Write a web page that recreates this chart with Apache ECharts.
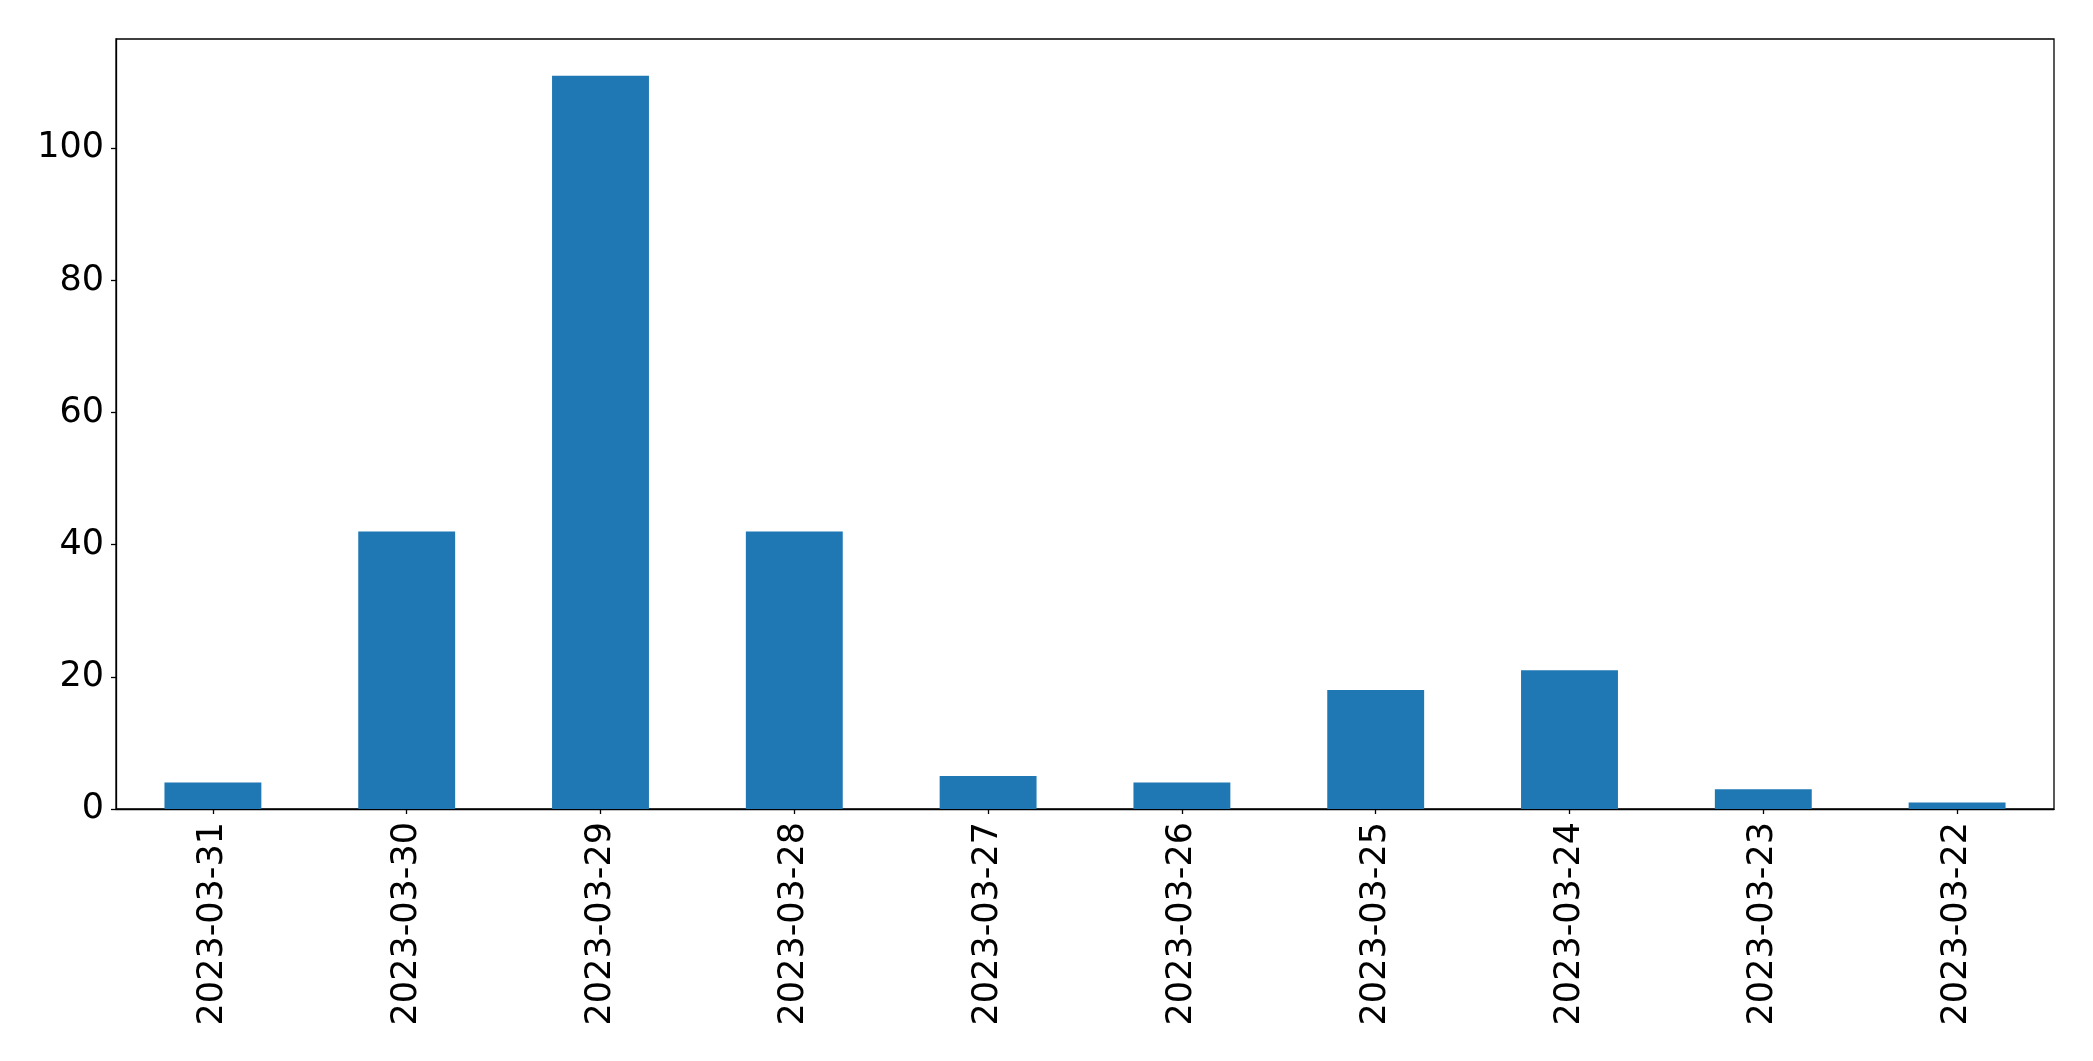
<!DOCTYPE html>
<html>
<head>
<meta charset="utf-8">
<script src="https://cdn.jsdelivr.net/npm/echarts@6/dist/echarts.min.js"></script>
<style>html,body{margin:0;padding:0;background:#fff;}#c{width:2093px;height:1061px;}</style>
</head>
<body>
<div id="c"></div>
<script>
const categories = ['2023-03-31','2023-03-30','2023-03-29','2023-03-28','2023-03-27','2023-03-26','2023-03-25','2023-03-24','2023-03-23','2023-03-22'];
const values = [4, 42, 111, 42, 5, 4, 18, 21, 3, 1];
const yTicks = [0, 20, 40, 60, 80, 100];

const chart = echarts.init(document.getElementById('c'), null, {renderer: 'canvas'});
const font = 'DejaVu Sans';
chart.setOption({
  animation: false,
  backgroundColor: '#ffffff',
  grid: {left: 116, top: 39, right: 39, bottom: 252, show: true, borderColor: '#000', borderWidth: 1.3, backgroundColor: 'transparent'},
  xAxis: {
    type: 'category',
    data: categories,
    boundaryGap: true,
    axisLine: {show: true, lineStyle: {color: '#000', width: 1.3}},
    axisTick: {show: true, alignWithLabel: true, length: 5, lineStyle: {color: '#000', width: 1.3}},
    axisLabel: {rotate: 90, color: '#000', fontFamily: font, fontSize: 35, margin: 13, interval: 0},
    splitLine: {show: false}
  },
  yAxis: {
    type: 'value',
    min: 0,
    max: 116.55,
    interval: 20,
    axisLine: {show: true, lineStyle: {color: '#000', width: 1.3}},
    axisTick: {show: true, length: 5, lineStyle: {color: '#000', width: 1.3}, customValues: yTicks},
    axisLabel: {color: '#000', fontFamily: font, fontSize: 35, margin: 12, padding: [7, 0, 0, 0], backgroundColor: 'rgba(0,0,0,0)', customValues: yTicks},
    splitLine: {show: false}
  },
  series: [{
    type: 'bar',
    data: values,
    barWidth: '50%',
    itemStyle: {color: '#1f77b4'}
  }]
});
</script>
</body>
</html>
